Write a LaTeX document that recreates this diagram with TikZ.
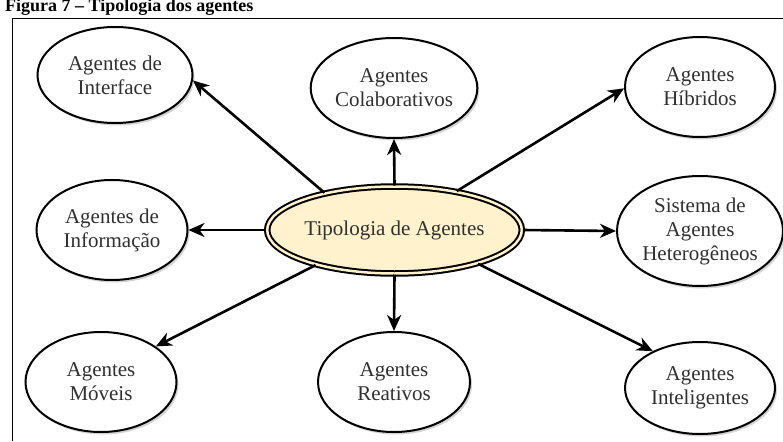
\documentclass[tikz,border=0pt]{standalone}
\usepackage{fontspec}
\setmainfont{Liberation Serif}
\usepackage{tikz}
\usetikzlibrary{arrows.meta,shapes.geometric,shadows}
\definecolor{tipcreme}{HTML}{FFF2CC}
\definecolor{tiptexto}{HTML}{303030}

\begin{document}
\begin{tikzpicture}[x=1pt, y=-1pt,
  agente/.style={ellipse, draw, line width=2pt, fill=white, inner sep=0pt,
    minimum width=152pt, minimum height=100pt, align=center,
    font=\fontsize{21}{24}\selectfont, text=tiptexto,
    drop shadow={shadow xshift=2pt, shadow yshift=-2.5pt, opacity=0.35, fill=gray}},
  seta/.style={-{Stealth[length=16pt, width=14pt, inset=5pt]}, line width=2.6pt}]
  \useasboundingbox (0,0) rectangle (783,441);
  \node[anchor=base west, inner sep=0pt, font=\fontsize{18}{20}\selectfont\bfseries]
    (titulo) at (5,11.5) {Figura 7 – Tipologia dos agentes};
  \draw[line width=1pt] (783,18.5) -- (12.5,18.5) -- (12.5,441);
  % no central
  \node[agente, fill=tipcreme, double=tipcreme, double distance=2.5pt,
    minimum width=207pt, minimum height=87pt] (tipo) at (394.5,230) {Tipologia de Agentes};
  % nos externos
  \node[agente, minimum width=155pt, minimum height=96pt] (iface) at (115,75) {Agentes de\\Interface};
  \node[agente] (colab) at (394,88) {Agentes\\Colaborativos};
  \node[agente, minimum width=150pt, minimum height=100pt] (hibrid) at (700,87) {Agentes\\Híbridos};
  \node[agente, minimum width=151pt] (info) at (112,230) {Agentes de\\Informação};
  \node[agente, minimum width=166pt, minimum height=110pt] (hetero) at (700,231) {Sistema de\\Agentes\\Heterogêneos};
  \node[agente, minimum width=151pt, minimum height=100pt] (moveis) at (101,382) {Agentes\\Móveis};
  \node[agente] (reat) at (394,382) {Agentes\\Reativos};
  \node[agente, minimum width=150pt, minimum height=92pt] (intel) at (700,388) {Agentes\\Inteligentes};
  % setas
  \draw[seta] (tipo.152) -- (iface.-4);
  \draw[seta] (tipo.north) -- (colab.south);
  \draw[seta] (tipo.32) -- (hibrid.181);
  \draw[seta] (tipo.west) -- (info.east);
  \draw[seta] (tipo.east) -- (hetero.west);
  \draw[seta] (tipo.204) -- (moveis.33);
  \draw[seta] (tipo.south) -- (reat.north);
  \draw[seta] (tipo.-22) -- (intel.142);
\end{tikzpicture}
\end{document}
